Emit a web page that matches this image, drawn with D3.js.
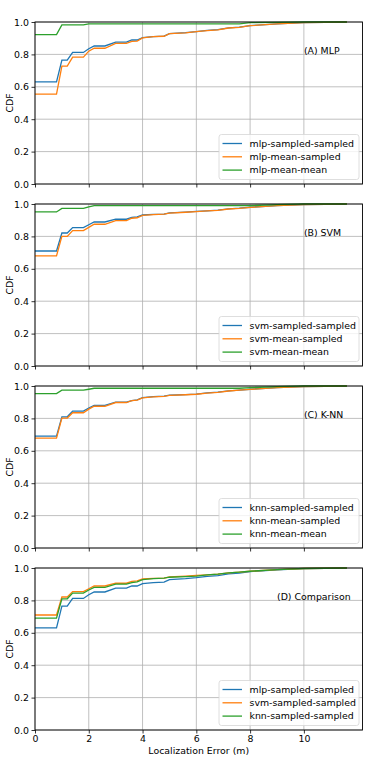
<!DOCTYPE html>
<html>
<head>
<meta charset="utf-8">
<script src="https://cdn.jsdelivr.net/npm/d3@7"></script>
<style>
  body { margin: 0; background: #fff; }
  text { font-family: "DejaVu Sans", sans-serif; }
  .grid line { stroke: #b0b0b0; stroke-width: 0.8; }
</style>
</head>
<body>
<script>
// localization error thresholds (m) shared by every curve
var errX = [0, 0.8, 1.0, 1.2, 1.4, 1.8, 2.0, 2.2, 2.6, 3.0, 3.4, 3.6, 3.8, 4.0, 4.4, 4.8, 5.0, 5.6, 6.0, 6.4, 6.8, 7.2, 7.6, 8.0, 9.0, 10.0, 11.6];

var mlpSampledSampled = [0.63, 0.63, 0.765, 0.765, 0.812, 0.812, 0.835, 0.852, 0.852, 0.876, 0.876, 0.889, 0.889, 0.904, 0.91, 0.913, 0.928, 0.934, 0.94, 0.948, 0.953, 0.964, 0.968, 0.978, 0.989, 0.996, 1.0];
var mlpMeanSampled    = [0.555, 0.555, 0.728, 0.728, 0.783, 0.783, 0.82, 0.838, 0.838, 0.868, 0.868, 0.88, 0.882, 0.902, 0.91, 0.912, 0.928, 0.933, 0.94, 0.947, 0.952, 0.963, 0.967, 0.977, 0.988, 0.996, 1.0];
var mlpMeanMean       = [0.922, 0.922, 0.982, 0.982, 0.982, 0.982, 0.988, 0.988, 0.988, 0.988, 0.988, 0.988, 0.988, 0.988, 0.988, 0.988, 0.988, 0.988, 0.988, 0.988, 0.988, 0.988, 0.988, 0.996, 0.998, 1.0, 1.0];

var svmSampledSampled = [0.71, 0.71, 0.821, 0.821, 0.854, 0.854, 0.872, 0.889, 0.889, 0.906, 0.906, 0.918, 0.92, 0.932, 0.936, 0.938, 0.945, 0.95, 0.954, 0.958, 0.962, 0.97, 0.974, 0.98, 0.99, 0.997, 1.0];
var svmMeanSampled    = [0.68, 0.68, 0.80, 0.80, 0.836, 0.836, 0.856, 0.875, 0.875, 0.897, 0.897, 0.912, 0.915, 0.93, 0.935, 0.937, 0.944, 0.949, 0.953, 0.957, 0.961, 0.969, 0.973, 0.979, 0.99, 0.997, 1.0];
var svmMeanMean       = [0.951, 0.951, 0.973, 0.973, 0.973, 0.973, 0.982, 0.99, 0.99, 0.99, 0.99, 0.99, 0.99, 0.99, 0.99, 0.99, 0.99, 0.99, 0.99, 0.99, 0.99, 0.99, 0.99, 0.99, 0.996, 1.0, 1.0];

var knnSampledSampled = [0.69, 0.69, 0.81, 0.81, 0.845, 0.845, 0.864, 0.88, 0.88, 0.90, 0.90, 0.91, 0.915, 0.928, 0.934, 0.937, 0.943, 0.947, 0.95, 0.957, 0.962, 0.97, 0.975, 0.98, 0.99, 0.997, 1.0];
var knnMeanSampled    = [0.678, 0.678, 0.802, 0.802, 0.835, 0.835, 0.857, 0.875, 0.875, 0.898, 0.898, 0.91, 0.913, 0.927, 0.933, 0.936, 0.942, 0.946, 0.949, 0.956, 0.961, 0.969, 0.974, 0.979, 0.99, 0.997, 1.0];
var knnMeanMean       = [0.953, 0.953, 0.974, 0.974, 0.974, 0.974, 0.98, 0.986, 0.986, 0.986, 0.986, 0.986, 0.986, 0.986, 0.986, 0.986, 0.986, 0.986, 0.986, 0.986, 0.986, 0.986, 0.986, 0.99, 0.996, 1.0, 1.0];

var xTicks = [0, 2, 4, 6, 8, 10];
var yTicks = [0.0, 0.2, 0.4, 0.6, 0.8, 1.0];
var colors = ["#1f77b4", "#ff7f0e", "#2ca02c"];

var panels = [
  {title: "(A) MLP", tx: 10, names: ["mlp-sampled-sampled", "mlp-mean-sampled", "mlp-mean-mean"], series: [mlpSampledSampled, mlpMeanSampled, mlpMeanMean]},
  {title: "(B) SVM", tx: 10, names: ["svm-sampled-sampled", "svm-mean-sampled", "svm-mean-mean"], series: [svmSampledSampled, svmMeanSampled, svmMeanMean]},
  {title: "(C) K-NN", tx: 10, names: ["knn-sampled-sampled", "knn-mean-sampled", "knn-mean-mean"], series: [knnSampledSampled, knnMeanSampled, knnMeanMean]},
  {title: "(D) Comparison", tx: 9, names: ["mlp-sampled-sampled", "svm-sampled-sampled", "knn-sampled-sampled"], series: [mlpSampledSampled, svmSampledSampled, knnSampledSampled]}
];

var W = 370, H = 767;
var left = 35, right = 362.5, ph = 162, tops = [22, 204, 386, 568];
var fs = 9.4;

var svg = d3.select("body").append("svg")
    .attr("width", W)
    .attr("height", H);

var x = d3.scaleLinear().domain([0, 12.18]).range([0, right - left]);
var y = d3.scaleLinear().domain([0, 1]).range([ph, 0]);

var line = d3.line()
    .x(function(d) { return x(d[0]); })
    .y(function(d) { return y(d[1]); });

panels.forEach(function(p, i) {
  var g = svg.append("g")
      .attr("transform", "translate(" + left + "," + tops[i] + ")");

  // grid
  g.append("g").attr("class", "grid")
      .selectAll("line").data(xTicks).enter().append("line")
      .attr("x1", x).attr("x2", x).attr("y1", 0).attr("y2", ph);
  g.append("g").attr("class", "grid")
      .selectAll("line").data(yTicks).enter().append("line")
      .attr("x1", 0).attr("x2", x.range()[1])
      .attr("y1", y).attr("y2", y);

  // curves
  p.series.forEach(function(s, k) {
    g.append("path")
        .datum(errX.map(function(e, j) { return [e, s[j]]; }))
        .attr("fill", "none")
        .attr("stroke", colors[k])
        .attr("stroke-width", 1.3)
        .attr("d", line);
  });

  // axes
  var ya = g.append("g")
      .call(d3.axisLeft(y).tickValues(yTicks).tickFormat(d3.format(".1f")).tickSize(3.5).tickPadding(2.5));
  var xa = g.append("g")
      .attr("transform", "translate(0," + ph + ")")
      .call(d3.axisBottom(x).tickValues(xTicks).tickSize(3.5).tickPadding(1.5)
        .tickFormat(i == 3 ? d3.format("d") : ""));
  [ya, xa].forEach(function(a) {
    a.select(".domain").remove();
    a.selectAll("line").attr("stroke", "#000").attr("stroke-width", 0.8);
    a.selectAll("text").attr("font-size", fs).attr("fill", "#000")
      .style("font-family", "DejaVu Sans");
  });

  g.append("rect")
      .attr("width", x.range()[1]).attr("height", ph)
      .attr("fill", "none").attr("stroke", "#000").attr("stroke-width", 0.9);

  // panel label
  g.append("text")
      .attr("x", x(p.tx)).attr("y", y(0.8))
      .attr("font-size", fs)
      .text(p.title);

  // legend
  var lw = 140, lh = 45;
  var lg = g.append("g")
      .attr("transform", "translate(" + (x.range()[1] - 3.5 - lw) + "," + (ph - 4.5 - lh) + ")");
  lg.append("rect")
      .attr("width", lw).attr("height", lh).attr("rx", 2.5)
      .attr("fill", "#fff").attr("fill-opacity", 0.8)
      .attr("stroke", "#d6d6d6").attr("stroke-width", 0.8);
  p.names.forEach(function(n, k) {
    var yy = 9 + k * 13.3;
    lg.append("line")
        .attr("x1", 3.5).attr("x2", 23).attr("y1", yy).attr("y2", yy)
        .attr("stroke", colors[k]).attr("stroke-width", 1.3);
    lg.append("text")
        .attr("x", 30.5).attr("y", yy)
        .attr("dy", "0.35em")
        .attr("font-size", fs)
        .text(n);
  });

  // y label
  g.append("text")
      .attr("transform", "translate(" + (10 - left) + "," + (ph / 2) + ") rotate(-90)")
      .attr("text-anchor", "middle")
      .attr("dy", "0.35em")
      .attr("font-size", fs)
      .text("CDF");
});

svg.append("text")
    .attr("x", left + (right - left) / 2)
    .attr("y", 754)
    .attr("text-anchor", "middle")
    .attr("font-size", fs)
    .text("Localization Error (m)");
</script>
</body>
</html>
